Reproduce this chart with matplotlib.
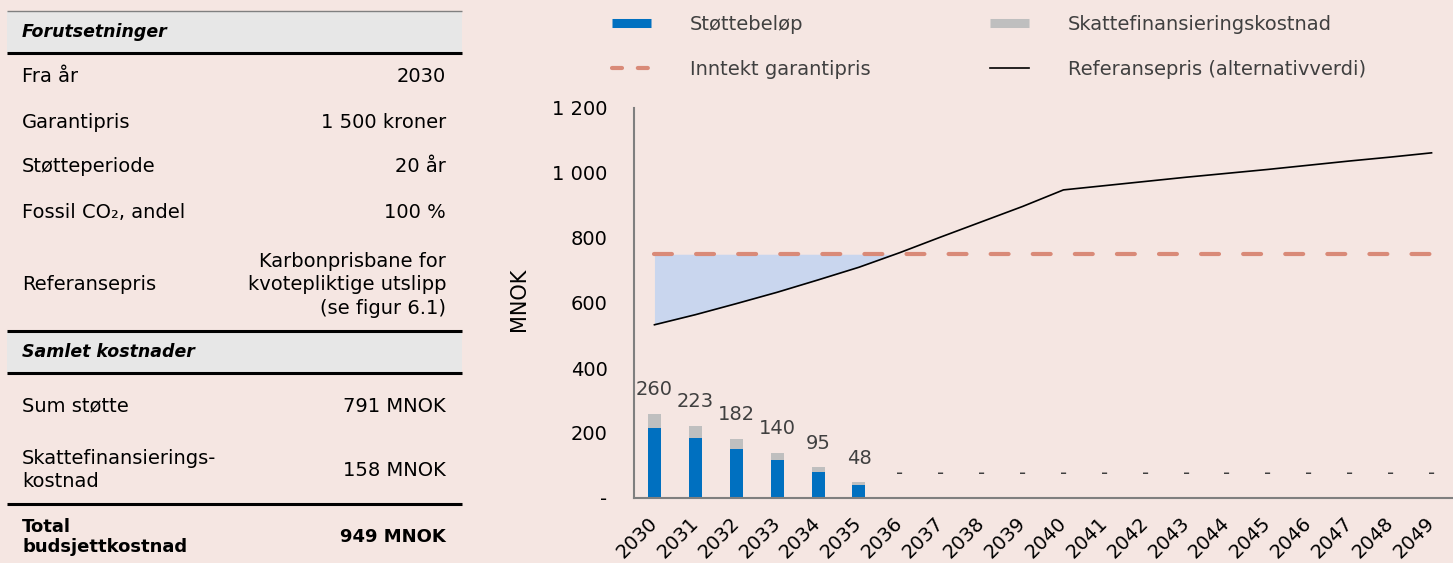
import numpy as np
import matplotlib.pyplot as plt
from matplotlib.lines import Line2D
import matplotlib.transforms as mtransforms

plt.rcParams['font.family'] = ['DejaVu Sans']

# --- data -----------------------------------------------------------------
years = list(range(2030, 2050))
stotte = [216.7, 185.8, 151.7, 116.7, 79.2, 40.0] + [0] * 14
skatt = [43.3, 37.2, 30.3, 23.3, 15.8, 8.0] + [0] * 14
totalt = [260, 223, 182, 140, 95, 48] + [0] * 14
garantipris = [750] * 20
referansepris = [533, 564, 598, 633, 671, 710, 755, 803, 850, 897,
                 948, 961, 974, 987, 999, 1011, 1024, 1037, 1049, 1062]

forutsetninger = [("Fra år", "2030"),
                  ("Garantipris", "1 500 kroner"),
                  ("Støtteperiode", "20 år"),
                  ("Fossil CO₂, andel", "100 %"),
                  ("Referansepris", "Karbonprisbane for\nkvotepliktige utslipp\n(se figur 6.1)")]
kostnader = [("Sum støtte", "791 MNOK"),
             ("Skattefinansierings-\nkostnad", "158 MNOK")]
total_rad = ("Total\nbudsjettkostnad", "949 MNOK")

BG = '#f5e6e2'
BLUE = '#0070c0'
GREY = '#bfbfbf'
SALMON = '#d98a78'
FILL = '#c9d6ee'

W, H = 1453, 563
fig = plt.figure(figsize=(W / 100, H / 100), dpi=100, facecolor=BG)

# --- tabell til venstre (pikselkoordinater) -------------------------------
tab = fig.add_axes([0, 0, 1, 1])
tab.set_xlim(0, W)
tab.set_ylim(H, 0)
tab.axis('off')

xl, xr = 7, 462
tl, tr = 22, 446
fs = 14

def band(y0, y1, tekst):
    tab.fill_between([xl, xr], y0, y1, color='#e7e7e7', lw=0)
    tab.text(tl, (y0 + y1) / 2, tekst, fontsize=12.5, fontweight='bold',
             fontstyle='italic', va='center', ha='left')

def strek(y, lw=2.2, c='black'):
    tab.plot([xl, xr], [y, y], color=c, lw=lw, solid_capstyle='butt')

strek(11, lw=1, c='#808080')
band(11, 53, "Forutsetninger")
strek(53)
for (navn, verdi), y in zip(forutsetninger, [76, 123, 167, 213, 285]):
    tab.text(tl, y, navn, fontsize=fs, va='center', ha='left')
    tab.text(tr, y, verdi, fontsize=fs, va='center', ha='right',
             multialignment='right', linespacing=1.3)
strek(331)
band(331, 373, "Samlet kostnader")
strek(373)
for (navn, verdi), y in zip(kostnader, [406, 470]):
    tab.text(tl, y, navn, fontsize=fs, va='center', ha='left', linespacing=1.3)
    tab.text(tr, y, verdi, fontsize=fs, va='center', ha='right')
strek(504)
tab.text(tl, 537, total_rad[0], fontsize=13, fontweight='bold', va='center',
         ha='left', linespacing=1.2)
tab.text(tr, 537, total_rad[1], fontsize=13, fontweight='bold', va='center',
         ha='right')

# --- diagram ----------------------------------------------------------------
ax = fig.add_axes([634 / W, 65 / H, (W - 1 - 634) / W, 390 / H])
ax.set_facecolor('none')
x = np.arange(len(years))
ref = np.array(referansepris, dtype=float)
gar = np.array(garantipris, dtype=float)

ax.fill_between(x, ref, gar, where=ref <= gar, interpolate=True,
                color=FILL, lw=0, zorder=1)
ax.bar(x, stotte, width=0.32, color=BLUE, zorder=2)
ax.bar(x, skatt, width=0.32, bottom=stotte, color=GREY, zorder=2)
ax.plot(x, gar, color=SALMON, lw=3, dashes=(4.3, 5.8),
        dash_capstyle='round', zorder=3)
ax.plot(x, ref, color='black', lw=1.2, zorder=4)

for xi, t in zip(x, totalt):
    ax.annotate(f"{t}" if t else "-", (xi, t), xytext=(0, 24),
                textcoords='offset pixels', ha='center', va='center',
                fontsize=14, color='#404040')

ax.set_xlim(-0.5, 19.5)
ax.set_ylim(0, 1200)
ax.set_yticks(range(0, 1201, 200))
ax.set_yticklabels(["-", "200", "400", "600", "800", "1 000", "1 200"])
ax.set_xticks(x)
ax.set_xticklabels([str(a) for a in years], rotation=45, ha='right',
                   va='center', rotation_mode='anchor')
shift = mtransforms.ScaledTranslation(8 / 100, 0, fig.dpi_scale_trans)
for lab in ax.get_xticklabels():
    lab.set_transform(lab.get_transform() + shift)
ax.tick_params(axis='y', length=0, pad=19, labelsize=14)
ax.tick_params(axis='x', length=0, pad=16, labelsize=14)
for s in ['top', 'right']:
    ax.spines[s].set_visible(False)
for s in ['left', 'bottom']:
    ax.spines[s].set_color('#7f7f7f')
    ax.spines[s].set_linewidth(1.5)
ax.set_ylabel("MNOK", fontsize=15)
ax.yaxis.set_label_coords(-0.128, 0.51)

# --- forklaring ---------------------------------------------------------------
h_stotte = Line2D([], [], color=BLUE, lw=6.5, solid_capstyle='butt')
h_skatt = Line2D([], [], color=GREY, lw=6.5, solid_capstyle='butt')
h_gar = Line2D([], [], color=SALMON, lw=3, dashes=(2.4, 3.8),
               dash_capstyle='round')
h_ref = Line2D([], [], color='black', lw=1.2)
leg_kw = dict(loc='upper left', frameon=False, fontsize=14, handlelength=2.0,
              handletextpad=2.0, labelspacing=1.35, borderaxespad=0,
              borderpad=0, labelcolor='#404040')
leg1 = fig.legend([h_stotte, h_gar], ["Støttebeløp", "Inntekt garantipris"],
                  bbox_to_anchor=(612 / W, 1 - 15 / H), **leg_kw)
leg2 = fig.legend([h_skatt, h_ref],
                  ["Skattefinansieringskostnad", "Referansepris (alternativverdi)"],
                  bbox_to_anchor=(990 / W, 1 - 15 / H), **leg_kw)

fig.savefig("out.png", dpi=100, facecolor=BG)
